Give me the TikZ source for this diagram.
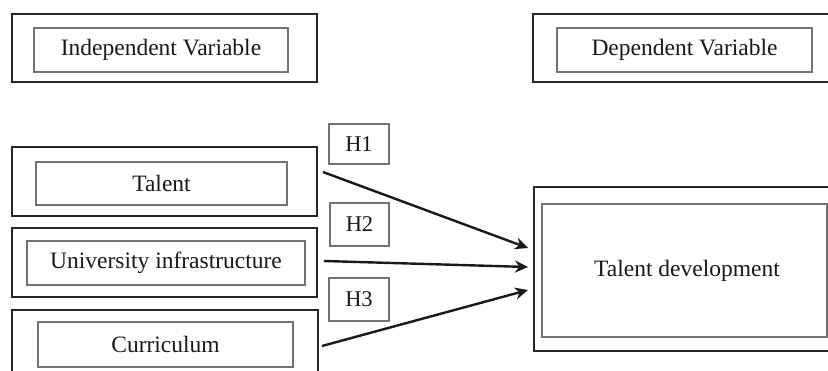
\documentclass[tikz,border=0pt]{standalone}
\usepackage{fontspec}
\setmainfont{Liberation Serif}
\usetikzlibrary{arrows.meta}
\tikzset{
  outerbox/.style={draw=black!85, line width=1.9pt, inner sep=0pt, fill=none},
  innerbox/.style={draw=black!55, line width=1.1pt, inner sep=0pt, font=\fontsize{23.5}{26}\selectfont, text=black!90},
  hbox/.style={draw=black!55, line width=1.1pt, inner sep=0pt, font=\fontsize{22.5}{26}\selectfont, text=black!90},
  conn/.style={draw=black!90, line width=2.4pt, -{Stealth[length=13pt,width=12pt]}}
}
\begin{document}
\begin{tikzpicture}[x=1pt,y=-1pt]
\useasboundingbox (0,0) rectangle (828,370);
\clip (0,0) rectangle (828,370);
\fill[white] (0,0) rectangle (828,370);
% header boxes
\node[outerbox, minimum width=305pt, minimum height=68pt] (indo) at (164.5,48) {};
\node[innerbox, minimum width=254pt, minimum height=44pt] (indi) at (161,50) {Independent Variable};
\node[outerbox, minimum width=303pt, minimum height=68pt] (depo) at (684.5,48) {};
\node[innerbox, minimum width=255pt, minimum height=44pt] (depi) at (684.5,50) {Dependent Variable};
% left boxes
\node[outerbox, minimum width=305pt, minimum height=69pt] (talo) at (164.5,181.5) {};
\node[innerbox, minimum width=251pt, minimum height=43pt] (tali) at (161.5,183.5) {Talent};
\node[outerbox, minimum width=305pt, minimum height=69pt] (unio) at (164.5,262.5) {};
\node[innerbox, minimum width=278pt, minimum height=44pt] (unii) at (166,263) {University infrastructure};
\node[outerbox, minimum width=306pt, minimum height=69pt] (curo) at (165,344.5) {};
\node[innerbox, minimum width=255pt, minimum height=45pt] (curi) at (165.5,344.5) {Curriculum};
% hypothesis boxes
\node[hbox, minimum width=60pt, minimum height=40pt] (h1) at (359,144) {H1};
\node[hbox, minimum width=59pt, minimum height=43pt] (h2) at (359.5,224.5) {H2};
\node[hbox, minimum width=60pt, minimum height=43pt] (h3) at (359,299.5) {H3};
% dependent box
\node[outerbox, minimum width=301pt, minimum height=164pt] (tdo) at (684.5,269) {};
\node[innerbox, minimum width=285pt, minimum height=133pt] (tdi) at (684.5,270.5) {\hspace*{5pt}Talent development};
% connectors
\draw[conn] ([xshift=5pt,yshift=9.5pt]talo.east) -- ([xshift=-5pt,yshift=21pt]tdo.west);
\draw[conn] ([xshift=6pt,yshift=1.5pt]unio.east) -- ([xshift=-5pt,yshift=2pt]tdo.west);
\draw[conn] ([xshift=3pt,yshift=-1.5pt]curo.east) -- ([xshift=-5pt,yshift=-21pt]tdo.west);
\end{tikzpicture}
\end{document}
